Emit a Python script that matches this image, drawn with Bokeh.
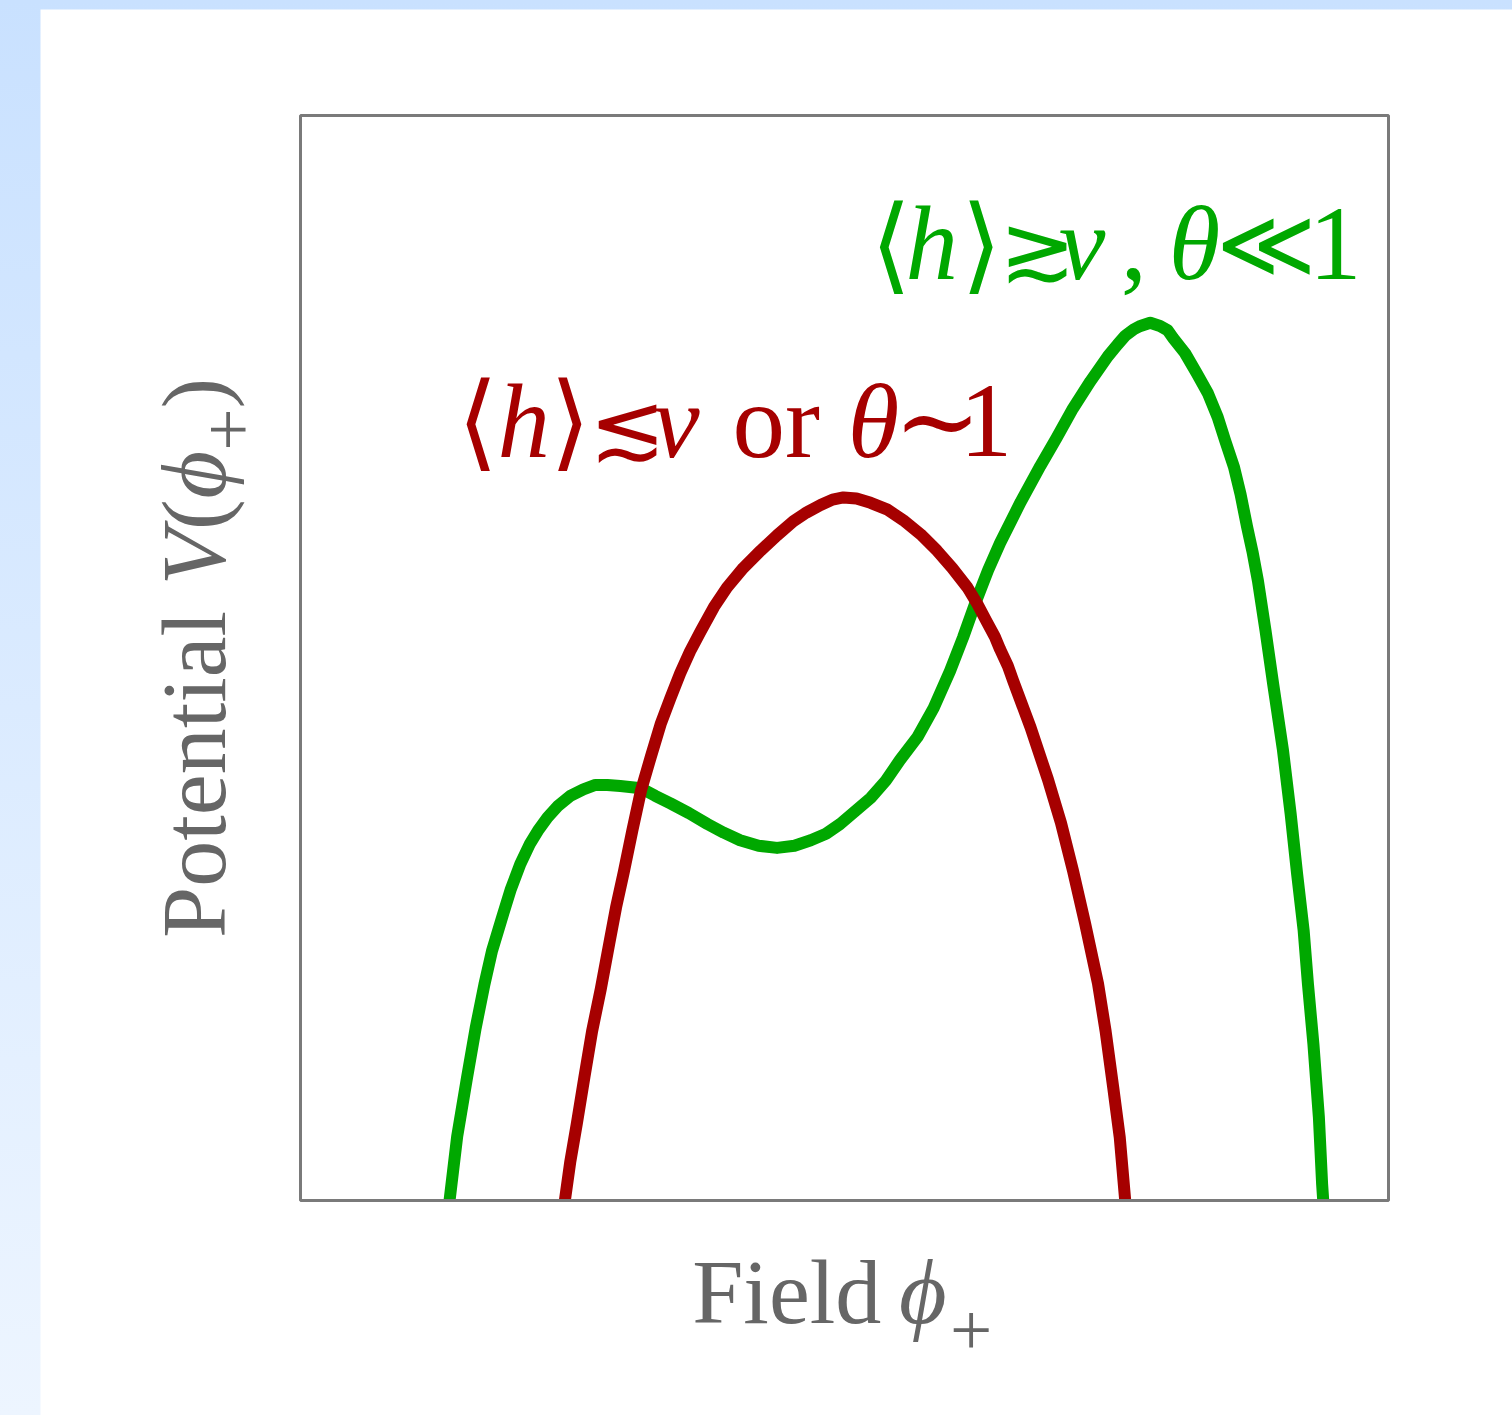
import math

from bokeh.plotting import figure
from bokeh.models import Range1d, Label, Column
from bokeh.embed import file_html
from bokeh.resources import INLINE

# Schematic potential V(phi+) against the field phi+ (arbitrary units, box spans 0-10)
field_green = [1.37, 1.44, 1.53, 1.61, 1.69, 1.76, 1.85, 1.93, 2.02, 2.11,
               2.19, 2.27, 2.37, 2.48, 2.60, 2.71, 2.82, 2.94, 3.13, 3.26,
               3.40, 3.57, 3.74, 3.89, 4.04, 4.21, 4.38, 4.54, 4.69, 4.83,
               4.96, 5.10, 5.24, 5.38, 5.51, 5.67, 5.82, 5.97, 6.09, 6.20,
               6.32, 6.43, 6.62, 6.80, 6.95, 7.10, 7.26, 7.42, 7.51, 7.58,
               7.66, 7.72, 7.81, 7.90, 7.97, 8.02, 8.13, 8.24, 8.34, 8.43,
               8.50, 8.58, 8.64, 8.70, 8.75, 8.80, 8.87, 8.94, 9.03, 9.10,
               9.16, 9.22, 9.26, 9.31, 9.36, 9.39, 9.40]
pot_green = [0.00, 0.59, 1.13, 1.59, 1.99, 2.30, 2.60, 2.86, 3.10, 3.29,
             3.42, 3.53, 3.64, 3.73, 3.79, 3.83, 3.83, 3.82, 3.80, 3.73,
             3.66, 3.57, 3.47, 3.39, 3.32, 3.27, 3.25, 3.27, 3.32, 3.38,
             3.47, 3.59, 3.71, 3.87, 4.06, 4.27, 4.54, 4.88, 5.19, 5.50,
             5.81, 6.06, 6.44, 6.77, 7.03, 7.30, 7.55, 7.78, 7.89, 7.97,
             8.03, 8.06, 8.09, 8.06, 8.02, 7.95, 7.81, 7.62, 7.44, 7.22,
             7.00, 6.76, 6.51, 6.21, 5.98, 5.71, 5.25, 4.76, 4.15, 3.57,
             3.01, 2.49, 1.99, 1.44, 0.77, 0.15, 0.00]

field_red = [2.43, 2.48, 2.54, 2.61, 2.68, 2.76, 2.84, 2.90, 2.97, 3.05,
             3.13, 3.22, 3.31, 3.40, 3.49, 3.58, 3.68, 3.80, 3.92, 4.07,
             4.23, 4.38, 4.53, 4.65, 4.78, 4.89, 4.99, 5.11, 5.24, 5.39,
             5.54, 5.70, 5.85, 5.99, 6.13, 6.22, 6.31, 6.38, 6.43, 6.50,
             6.55, 6.71, 6.87, 6.99, 7.10, 7.21, 7.33, 7.40, 7.47, 7.53,
             7.58]
pot_red = [0.00, 0.36, 0.71, 1.14, 1.56, 1.95, 2.38, 2.70, 3.02, 3.41,
           3.78, 4.09, 4.39, 4.63, 4.86, 5.06, 5.25, 5.47, 5.65, 5.83,
           5.99, 6.13, 6.26, 6.34, 6.41, 6.46, 6.48, 6.47, 6.43, 6.37,
           6.27, 6.14, 5.99, 5.83, 5.65, 5.50, 5.33, 5.20, 5.08, 4.93,
           4.79, 4.36, 3.88, 3.48, 3.04, 2.56, 2.00, 1.56, 1.04, 0.58,
           0.00]

# Curve annotations, split into upright / italic pieces
green_pieces = ["⟨", "h", "⟩", "≳", "v", ",", "θ", "≪", "1"]
red_pieces = ["⟨", "h", "⟩", "≲", "v", "or", "θ", "∼", "1"]
x_title = ["Field", "ϕ", "+"]
y_title = ["Potential", "V", "(", "ϕ", "+", ")"]

GREEN = "#00a800"
RED = "#a60000"
GREY = "#666666"
FRAME = "#7a7a7a"
SERIF = "Liberation Serif"
SYMB = "DejaVu Serif"

# data units per pixel: the 0-10 box is 1088 x 1085 px
UX = 10 / 1088
UY = 10 / 1085

p = figure(width=1472, height=1406, output_backend="svg", toolbar_location=None,
           x_range=Range1d(-260 * UX, 10 + 124 * UX),
           y_range=Range1d(-215 * UY, 10 + 106 * UY),
           min_border=0)
p.margin = (9, 0, 0, 40)
p.axis.visible = False
p.grid.visible = False
p.outline_line_color = None
p.background_fill_color = "white"
p.border_fill_color = "white"

p.line(field_green, pot_green, line_color=GREEN, line_width=12, line_join="round")
p.line(field_red, pot_red, line_color=RED, line_width=12, line_join="round")

# keep the curves inside the box: blank out anything below V = 0
p.quad(left=[-1], right=[11], bottom=[-1.9], top=[0], fill_color="white", line_color=None)
# plot box
p.quad(left=[0], right=[10], bottom=[0], top=[10], fill_color=None,
       line_color=FRAME, line_width=3)


def put(x, y, text, color, size, style="normal", font=SERIF, angle=0.0):
    p.add_layout(Label(x=x, y=y, text=text, text_color=color,
                       text_font=font, text_font_size=f"{size}px",
                       text_font_style=style, text_align="left",
                       text_baseline="alphabetic", angle=angle))


# green annotation: <h> >~ v, theta << 1
gx = [5.24, 5.56, 6.07, 6.42, 6.97, 7.54, 7.98, 8.41, 9.27]
gy = [8.82, 8.82, 8.82, 8.77, 8.82, 8.82, 8.82, 8.82, 8.82]
gsize = [105, 105, 105, 92, 105, 105, 105, 96, 105]
gstyle = ["normal", "italic", "normal", "normal", "italic", "normal", "italic", "normal", "normal"]
gfont = [SYMB, SERIF, SYMB, SYMB, SERIF, SERIF, SERIF, SYMB, SERIF]
for t, x, y, sz, s, f in zip(green_pieces, gx, gy, gsize, gstyle, gfont):
    put(x, y, t, GREEN, sz, s, f)

# red annotation: <h> <~ v or theta ~ 1
rx = [1.44, 1.81, 2.29, 2.65, 3.24, 3.97, 5.03, 5.45, 6.06]
ry = [7.18, 7.18, 7.18, 7.13, 7.18, 7.18, 7.18, 7.18, 7.18]
rsize = [105, 105, 105, 92, 105, 105, 105, 105, 105]
rstyle = ["normal", "italic", "normal", "normal", "italic", "normal", "italic", "normal", "normal"]
rfont = [SYMB, SERIF, SYMB, SYMB, SERIF, SERIF, SERIF, SYMB, SERIF]
for t, x, y, sz, s, f in zip(red_pieces, rx, ry, rsize, rstyle, rfont):
    put(x, y, t, RED, sz, s, f)

# axis titles
put(3.60, -0.84, x_title[0], GREY, 92)
put(5.50, -0.84, x_title[1], GREY, 92, "italic")
put(5.97, -1.20, x_title[2], GREY, 75)

up = math.pi / 2
put(-0.98, 2.42, y_title[0], GREY, 92, angle=up)
put(-0.98, 5.67, y_title[1], GREY, 92, "italic", angle=up)
put(-0.98, 6.18, y_title[2], GREY, 92, angle=up)
put(-0.98, 6.47, y_title[3], GREY, 92, "italic", angle=up)
put(-0.66, 6.91, y_title[4], GREY, 75, angle=up)
put(-0.98, 7.30, y_title[5], GREY, 92, angle=up)

page = Column(children=[p], width=1512, height=1415,
              styles={"background": "linear-gradient(180deg, #c9e1ff 0%, #edf5ff 100%)"})

open("out.html", "w").write(file_html(page, INLINE))
